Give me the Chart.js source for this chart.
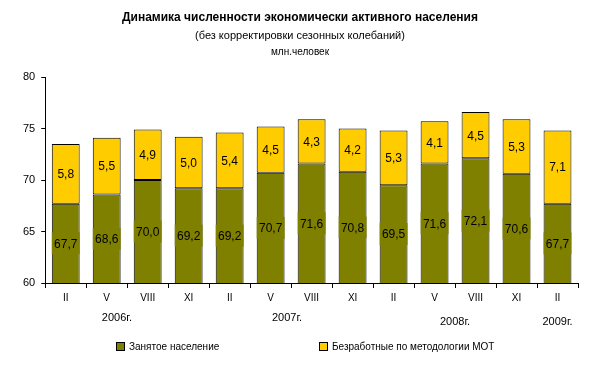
<!DOCTYPE html>
<html lang="ru">
<head>
<meta charset="UTF-8">
<script src="https://cdn.jsdelivr.net/npm/chart.js"></script>
<style>
    body { margin: 0; background: #fff; font-family: "Liberation Sans", Arial, sans-serif; }
    #wrap { position: relative; width: 589px; height: 367px; }
    .t { position: absolute; left: 0; width: 600px; text-align: center; color: #000; }
    #title { top: 10px; font-size: 12px; font-weight: bold; }
    #sub { top: 29px; font-size: 11px; }
    #unit { top: 46px; font-size: 10px; }
    .leg { position: absolute; top: 341px; font-size: 10px; color: #000; }
    .leg span { display: inline-block; width: 7px; height: 7px; border: 1px solid #000; margin-right: 4px; vertical-align: -1px; }
</style>
</head>
<body>
<div id="wrap">
    <canvas id="c" width="589" height="367"></canvas>
    <div class="t" id="title">Динамика численности экономически активного населения</div>
    <div class="t" id="sub">(без корректировки сезонных колебаний)</div>
    <div class="t" id="unit">млн.человек</div>
    <div class="leg" style="left:116px"><span style="background:#808000"></span>Занятое население</div>
    <div class="leg" style="left:319px"><span style="background:#FFCC00"></span>Безработные по методологии МОТ</div>
</div>
<script>
    // месяцы (кварталы) и годы
    const months = ['II', 'V', 'VIII', 'XI', 'II', 'V', 'VIII', 'XI', 'II', 'V', 'VIII', 'XI', 'II'];
    const years = ['2006г.', '2007г.', '2008г.', '2009г.'];
    const yearPos = [1.25, 5.4, 9.5, 12];   // позиция подписи года в индексах категорий
    const employed = [67.7, 68.6, 70.0, 69.2, 69.2, 70.7, 71.6, 70.8, 69.5, 71.6, 72.1, 70.6, 67.7];
    const unemployed = [5.8, 5.5, 4.9, 5.0, 5.4, 4.5, 4.3, 4.2, 5.3, 4.1, 4.5, 5.3, 7.1];

    const fmt = v => v.toFixed(1).replace('.', ',');

    // подписи значений внутри столбцов + подписи годов
    const labelsPlugin = {
        id: 'labelsPlugin',
        afterDatasetsDraw(chart) {
            const ctx = chart.ctx;
            const yScale = chart.scales.y;
            ctx.save();
            ctx.font = '12px "Liberation Sans", Arial, sans-serif';
            ctx.textAlign = 'center';
            ctx.textBaseline = 'middle';
            chart.data.datasets.forEach((ds, di) => {
                chart.getDatasetMeta(di).data.forEach((bar, i) => {
                    const top = Math.max(bar.y, yScale.top);
                    const bottom = Math.min(bar.base, yScale.bottom);
                    const y = (top + bottom) / 2;
                    const txt = fmt(ds.data[i]);
                    if (di === 0) {
                        ctx.fillStyle = '#808000';
                        ctx.fillRect(bar.x - bar.width / 2, y - 11, bar.width, 22);
                    }
                    ctx.fillStyle = '#000';
                    ctx.fillText(txt, bar.x, y + 1);
                });
            });
            const xScale = chart.scales.x;
            ctx.font = '11px "Liberation Sans", Arial, sans-serif';
            years.forEach((yr, k) => {
                const x = xScale.getPixelForValue(yearPos[k]);
                ctx.fillText(yr, x, k < 2 ? 318 : 322);
            });
            ctx.restore();
        }
    };

    new Chart(document.getElementById('c'), {
        type: 'bar',
        data: {
            labels: months,
            datasets: [{
                label: 'Занятое население',
                data: employed,
                backgroundColor: '#808000',
                borderColor: '#000',
                borderWidth: 1,
                borderSkipped: false
            }, {
                label: 'Безработные по методологии МОТ',
                data: unemployed,
                backgroundColor: '#FFCC00',
                borderColor: '#000',
                borderWidth: 1,
                borderSkipped: false
            }]
        },
        options: {
            responsive: false,
            animation: false,
            layout: { padding: { top: 77, left: 17, right: 11, bottom: 59 } },
            plugins: {
                legend: { display: false },
                tooltip: { enabled: false }
            },
            datasets: { bar: { categoryPercentage: 1, barPercentage: 0.68 } },
            scales: {
                x: {
                    stacked: true,
                    grid: { drawOnChartArea: false, color: '#000', tickLength: 5 },
                    border: { color: '#000' },
                    ticks: { color: '#000', font: { size: 10, family: '"Liberation Sans", Arial' }, maxRotation: 0, padding: 4 }
                },
                y: {
                    stacked: true,
                    min: 60,
                    max: 80,
                    grid: { drawOnChartArea: false, color: '#000', tickLength: 4 },
                    border: { color: '#000' },
                    ticks: { stepSize: 5, color: '#000', font: { size: 11, family: '"Liberation Sans", Arial' }, padding: 6 }
                }
            }
        },
        plugins: [labelsPlugin]
    });
</script>
</body>
</html>
